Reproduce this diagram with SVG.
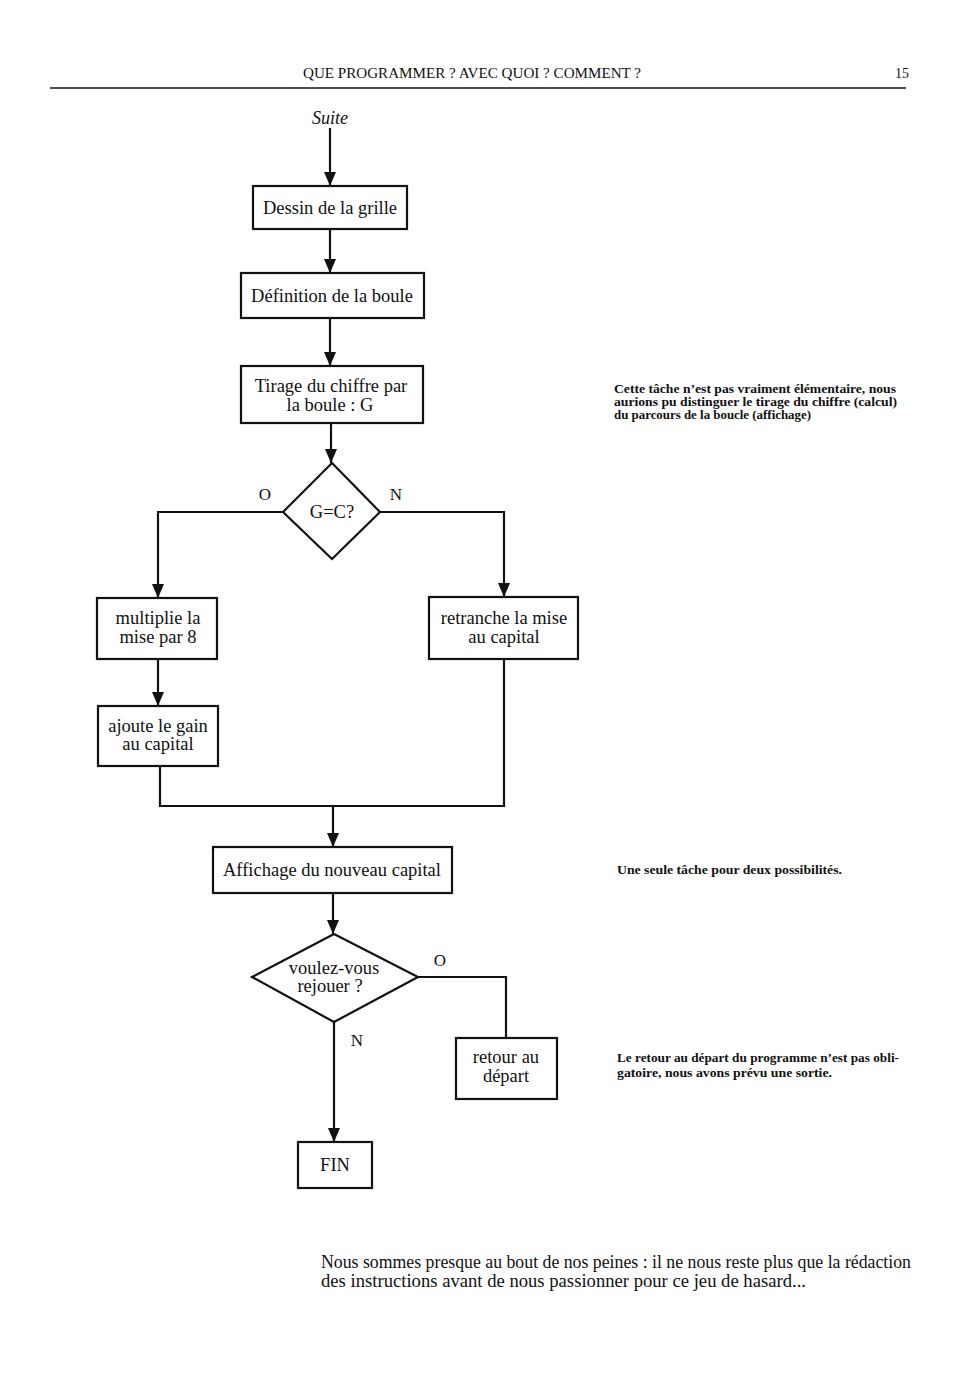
<svg xmlns="http://www.w3.org/2000/svg" width="961" height="1400" viewBox="0 0 961 1400">
<style>
.t{font-family:"Liberation Serif",serif;font-size:18.5px;fill:#111;text-anchor:middle}
.n{font-family:"Liberation Serif",serif;font-size:11.5px;font-weight:bold;fill:#111}
.b{fill:#fff;stroke:#111;stroke-width:2.2}
.c{fill:none;stroke:#111;stroke-width:2.2}
.lbl{font-family:"Liberation Serif",serif;font-size:17px;fill:#111}
</style>
<defs>
<marker id="ah" viewBox="0 0 14 12" refX="14" refY="6" markerWidth="14" markerHeight="12" markerUnits="userSpaceOnUse" orient="auto">
<path d="M0,0 L14,6 L0,12 Z" fill="#111"/>
</marker>
</defs>
<rect width="961" height="1400" fill="#fff"/>
<text x="472" y="78" font-family="Liberation Serif,serif" font-size="14" fill="#111" text-anchor="middle" textLength="338" lengthAdjust="spacingAndGlyphs">QUE PROGRAMMER ? AVEC QUOI ? COMMENT ?</text>
<text x="902" y="78" font-family="Liberation Serif,serif" font-size="14" fill="#111" text-anchor="middle">15</text>
<line x1="50" y1="88" x2="906" y2="88" stroke="#111" stroke-width="1.5"/>
<text x="330" y="124" font-family="Liberation Serif,serif" font-size="18" font-style="italic" fill="#111" text-anchor="middle">Suite</text>
<g id="connectors">
<line class="c" x1="330" y1="128" x2="330" y2="186" marker-end="url(#ah)"/>
<line class="c" x1="330" y1="229" x2="330" y2="273" marker-end="url(#ah)"/>
<line class="c" x1="330" y1="318" x2="330" y2="366" marker-end="url(#ah)"/>
<line class="c" x1="331" y1="423" x2="331" y2="463" marker-end="url(#ah)"/>
<polyline class="c" points="283,512 158,512 158,598" marker-end="url(#ah)"/>
<polyline class="c" points="380,512 504,512 504,597" marker-end="url(#ah)"/>
<line class="c" x1="158" y1="659" x2="158" y2="706" marker-end="url(#ah)"/>
<polyline class="c" points="160,766 160,806 504,806 504,659"/>
<line class="c" x1="333" y1="806" x2="333" y2="847" marker-end="url(#ah)"/>
<line class="c" x1="333" y1="893" x2="333" y2="934" marker-end="url(#ah)"/>
<polyline class="c" points="418,977 506,977 506,1038"/>
<line class="c" x1="334" y1="1022" x2="334" y2="1142" marker-end="url(#ah)"/>
<text class="lbl" x="265" y="500" text-anchor="middle">O</text>
<text class="lbl" x="396" y="500" text-anchor="middle">N</text>
<text class="lbl" x="440" y="966" text-anchor="middle">O</text>
<text class="lbl" x="357" y="1046" text-anchor="middle">N</text>
</g>
<g id="n1"><rect class="b" x="253" y="186" width="154" height="43"/><text class="t" x="330" y="214">Dessin de la grille</text></g>
<g id="n2"><rect class="b" x="241" y="273" width="183" height="45"/><text class="t" x="332" y="302">Définition de la boule</text></g>
<g id="n3"><rect class="b" x="241" y="366" width="182" height="57"/><text class="t" x="331" y="392">Tirage du chiffre par</text><text class="t" x="330" y="411">la boule : G</text></g>
<g id="d1"><polygon class="b" points="332,463 380,512 332,559 283,512"/><text class="t" x="332" y="518">G=C?</text></g>
<g id="n4"><rect class="b" x="97" y="598" width="120" height="61"/><text class="t" x="158" y="624">multiplie la</text><text class="t" x="158" y="643">mise par 8</text></g>
<g id="n5"><rect class="b" x="429" y="597" width="149" height="62"/><text class="t" x="504" y="624">retranche la mise</text><text class="t" x="504" y="643">au capital</text></g>
<g id="n6"><rect class="b" x="98" y="706" width="120" height="60"/><text class="t" x="158" y="732">ajoute le gain</text><text class="t" x="158" y="750">au capital</text></g>
<g id="n7"><rect class="b" x="213" y="847" width="239" height="46"/><text class="t" x="332" y="876">Affichage du nouveau capital</text></g>
<g id="d2"><polygon class="b" points="334,934 418,977 334,1022 252,977"/><text class="t" x="334" y="974">voulez-vous</text><text class="t" x="330" y="992">rejouer ?</text></g>
<g id="n8"><rect class="b" x="456" y="1038" width="101" height="61"/><text class="t" x="506" y="1063">retour au</text><text class="t" x="506" y="1082">départ</text></g>
<g id="n9"><rect class="b" x="298" y="1142" width="74" height="46"/><text class="t" x="335" y="1171">FIN</text></g>
<g id="notes">
<text class="n" x="614" y="393" textLength="282" lengthAdjust="spacingAndGlyphs">Cette tâche n’est pas vraiment élémentaire, nous</text>
<text class="n" x="614" y="406" textLength="283" lengthAdjust="spacingAndGlyphs">aurions pu distinguer le tirage du chiffre (calcul)</text>
<text class="n" x="614" y="419" textLength="197" lengthAdjust="spacingAndGlyphs">du parcours de la boucle (affichage)</text>
<text class="n" x="617" y="874" textLength="225" lengthAdjust="spacingAndGlyphs">Une seule tâche pour deux possibilités.</text>
<text class="n" x="617" y="1062" textLength="282" lengthAdjust="spacingAndGlyphs">Le retour au départ du programme n’est pas obli-</text>
<text class="n" x="617" y="1077" textLength="215" lengthAdjust="spacingAndGlyphs">gatoire, nous avons prévu une sortie.</text>
</g>
<text x="321" y="1268" font-family="Liberation Serif,serif" font-size="18" fill="#111" textLength="590" lengthAdjust="spacingAndGlyphs">Nous sommes presque au bout de nos peines : il ne nous reste plus que la rédaction</text>
<text x="321" y="1287" font-family="Liberation Serif,serif" font-size="18" fill="#111" textLength="485" lengthAdjust="spacingAndGlyphs">des instructions avant de nous passionner pour ce jeu de hasard...</text>
</svg>
